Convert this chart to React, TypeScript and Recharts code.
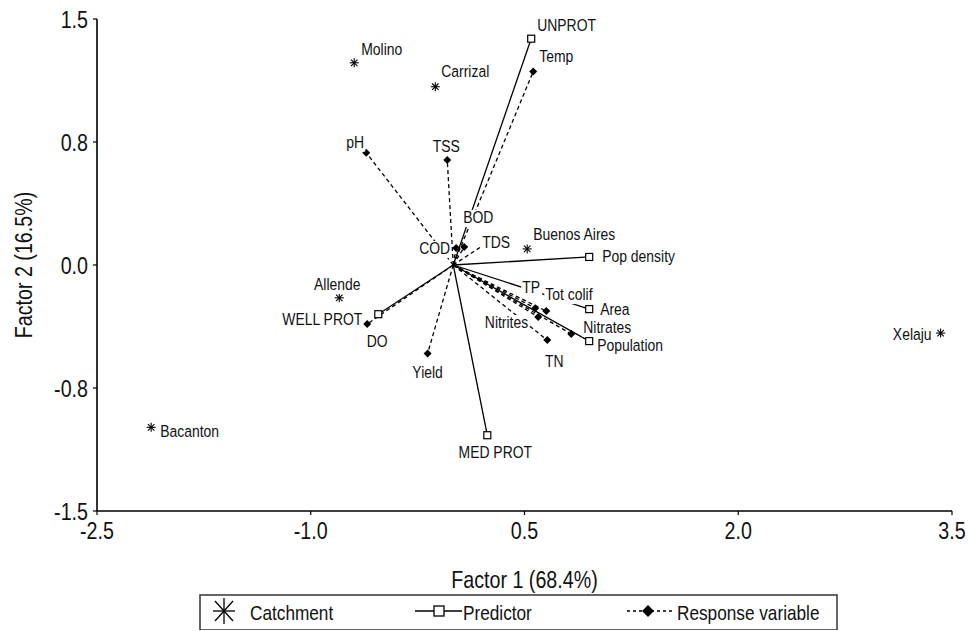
import React from 'react';
import { ScatterChart, Scatter, XAxis, YAxis } from 'recharts';

const FONT = '"Liberation Sans", Arial, sans-serif';
// no Arial Narrow here, so squeeze Liberation Sans horizontally
const NARROW = 0.82;

// catchments (asterisks)
const catchmentNames = ['Molino', 'Carrizal', 'Buenos Aires', 'Allende', 'Bacanton', 'Xelaju'];
const catchmentX = [-0.695, -0.126, 0.519, -0.8, -2.12, 3.42];
const catchmentY = [1.233, 1.087, 0.098, -0.2, -0.99, -0.415];

// predictors (open squares, solid vectors)
const predictorNames = ['UNPROT', 'Pop density', 'Area', 'Population', 'MED PROT', 'WELL PROT'];
const predictorX = [0.547, 0.954, 0.954, 0.954, 0.239, -0.526];
const predictorY = [1.38, 0.049, -0.269, -0.464, -1.038, -0.3];

// response variables (filled diamonds, dashed vectors)
const responseNames = ['Temp', 'pH', 'TSS', 'BOD', 'COD', 'TDS', 'TP', 'Tot colif', 'Nitrites', 'Nitrates', 'TN', 'DO', 'Yield'];
const responseX = [0.561, -0.611, -0.042, 0.077, 0.02, 0.246, 0.575, 0.653, 0.596, 0.828, 0.66, -0.604, -0.18];
const responseY = [1.18, 0.685, 0.641, 0.11, 0.104, 0.14, -0.263, -0.281, -0.317, -0.421, -0.458, -0.36, -0.54];

const xTicks = [-2.5, -1.0, 0.5, 2.0, 3.5];
const yTicks = [-1.5, -0.75, 0, 0.75, 1.5];
const yTickLabels = ['-1.5', '-0.8', '0.0', '0.8', '1.5'];

// where each label sits next to its marker: [dx, dy, anchor]
const labelPlacement: Record<string, [number, number, 'start' | 'middle' | 'end']> = {
  Molino: [7, -8, 'start'],
  Carrizal: [6, -10, 'start'],
  'Buenos Aires': [6, -9, 'start'],
  Allende: [-2, -8, 'middle'],
  Bacanton: [9, 10, 'start'],
  Xelaju: [-9, 7, 'end'],
  UNPROT: [6, -8, 'start'],
  'Pop density': [13, 5, 'start'],
  Area: [11, 6, 'start'],
  Population: [8, 10, 'start'],
  'MED PROT': [8, 23, 'middle'],
  'WELL PROT': [-16, 11, 'end'],
  Temp: [6, -9, 'start'],
  pH: [-2, -5, 'end'],
  TSS: [-1, -8, 'middle'],
  BOD: [-1, -24, 'start'],
  COD: [-6, 6, 'end'],
  TDS: [-6, 6, 'start'],
  TP: [-13, -15, 'start'],
  'Tot colif': [-1, -11, 'start'],
  Nitrites: [-10, 11, 'end'],
  Nitrates: [12, -1, 'start'],
  TN: [7, 27, 'middle'],
  DO: [10, 23, 'middle'],
  Yield: [0, 24, 'middle'],
};

type Pt = { name: string; x: number; y: number };
const zip = (names: string[], xs: number[], ys: number[]): Pt[] =>
  names.map((name, i) => ({ name, x: xs[i], y: ys[i] }));

const catchments = zip(catchmentNames, catchmentX, catchmentY);
const predictors = zip(predictorNames, predictorX, predictorY);
const responses = zip(responseNames, responseX, responseY);
const allPoints = [...catchments, ...predictors, ...responses];
const origin = { name: 'origin', x: 0, y: 0 };

const LABEL_SIZE = 17;

function textWidth(s: string) {
  let w = 0;
  for (const ch of s) {
    if (ch === ' ') w += 0.278;
    else if (ch >= 'A' && ch <= 'Z') w += 0.68;
    else if ('iljt'.includes(ch)) w += 0.24;
    else w += 0.556;
  }
  return w * LABEL_SIZE * NARROW;
}

// squeezed text, anchored at (x, y) on the baseline
const NText = ({ x, y, size, anchor = 'start', rotate = 0, children }: any) => (
  <text
    transform={`translate(${x},${y}) rotate(${rotate}) scale(${NARROW},1)`}
    textAnchor={anchor}
    fontSize={size}
    fontFamily={FONT}
    fill="#111"
  >
    {children}
  </text>
);

const XTick = ({ x, y, payload }: any) => (
  <NText x={x} y={y + 17} size={24} anchor="middle">
    {Number(payload.value).toFixed(1)}
  </NText>
);

const YTick = ({ x, y, payload }: any) => (
  <NText x={x} y={y + 8.5} size={24} anchor="end">
    {yTickLabels[yTicks.indexOf(payload.value)] ?? String(payload.value)}
  </NText>
);

const Nothing = () => <g />;

const Asterisk = ({ cx, cy }: any) => {
  const r = 4.5;
  const d = r * 0.72;
  return (
    <g stroke="#000" strokeWidth={1.1}>
      <line x1={cx} y1={cy - r} x2={cx} y2={cy + r} />
      <line x1={cx - r} y1={cy} x2={cx + r} y2={cy} />
      <line x1={cx - d} y1={cy - d} x2={cx + d} y2={cy + d} />
      <line x1={cx - d} y1={cy + d} x2={cx + d} y2={cy - d} />
    </g>
  );
};

const Square = ({ cx, cy }: any) => (
  <rect x={cx - 3.5} y={cy - 3.5} width={7} height={7} fill="#fff" stroke="#000" strokeWidth={1.2} />
);

const Diamond = ({ cx, cy }: any) => (
  <polygon points={`${cx},${cy - 4} ${cx + 4},${cy} ${cx},${cy + 4} ${cx - 4},${cy}`} fill="#000" />
);

const PointLabel = ({ cx, cy, payload }: any) => {
  const [dx, dy, anchor] = labelPlacement[payload.name] || [6, -6, 'start'];
  const w = textWidth(payload.name);
  const x = cx + dx;
  const y = cy + dy;
  const left = anchor === 'start' ? x : anchor === 'end' ? x - w : x - w / 2;
  return (
    <g>
      <rect x={left - 1} y={y - 13} width={w + 2} height={17} fill="#fff" />
      <NText x={x} y={y} size={LABEL_SIZE} anchor={anchor}>
        {payload.name}
      </NText>
    </g>
  );
};

const Legend = () => (
  <svg width={640} height={36} style={{ position: 'absolute', left: 199, top: 594 }}>
    <rect x={1} y={1} width={637} height={35} fill="#fff" stroke="#333" strokeWidth={1.5} />
    <g stroke="#000" strokeWidth={1.3}>
      <line x1={25} y1={4} x2={25} y2={30} />
      <line x1={14} y1={17} x2={36} y2={17} />
      <line x1={16} y1={7} x2={34} y2={27} />
      <line x1={16} y1={27} x2={34} y2={7} />
    </g>
    <NText x={51} y={26} size={21}>Catchment</NText>
    <line x1={216} y1={17} x2={263} y2={17} stroke="#000" strokeWidth={1.4} />
    <rect x={235} y={12} width={10} height={10} fill="#fff" stroke="#000" strokeWidth={1.3} />
    <NText x={264} y={26} size={21}>Predictor</NText>
    <line x1={428} y1={17} x2={473} y2={17} stroke="#000" strokeWidth={1.4} strokeDasharray="3 3" />
    <polygon points="449,11 455,17 449,23 443,17" fill="#000" />
    <NText x={478} y={26} size={21}>Response variable</NText>
  </svg>
);

export default function App() {
  return (
    <div style={{ position: 'absolute', left: 0, top: 0, width: 969, height: 631, background: '#fff' }}>
      <ScatterChart width={969} height={631} margin={{ top: 19, right: 17, bottom: 40, left: 0 }}>
        <XAxis
          type="number"
          dataKey="x"
          domain={[-2.5, 3.5]}
          ticks={xTicks}
          interval={0}
          allowDataOverflow
          axisLine={{ stroke: '#000', strokeWidth: 1.6 }}
          tickLine={{ stroke: '#000', strokeWidth: 1.2 }}
          tickSize={4}
          tickMargin={7}
          tick={XTick}
          height={80}
          label={{
            content: ({ viewBox }: any) => (
              <NText x={viewBox.x + viewBox.width / 2} y={viewBox.y + 77} size={24} anchor="middle">
                Factor 1 (68.4%)
              </NText>
            ),
          }}
        />
        <YAxis
          type="number"
          dataKey="y"
          domain={[-1.5, 1.5]}
          ticks={yTicks}
          interval={0}
          allowDataOverflow
          axisLine={{ stroke: '#000', strokeWidth: 1.6 }}
          tickLine={{ stroke: '#000', strokeWidth: 1.2 }}
          tickSize={4}
          tickMargin={5}
          tick={YTick}
          width={97}
          label={{
            content: ({ viewBox }: any) => (
              <text
                transform={`translate(${viewBox.x + 32},${viewBox.y + viewBox.height / 2}) rotate(-90) scale(${NARROW},1)`}
                textAnchor="middle"
                fontSize={24}
                fontFamily={FONT}
                fill="#111"
              >
                Factor 2 (16.5%)
              </text>
            ),
          }}
        />
        {predictors.map((p) => (
          <Scatter
            key={`pv-${p.name}`}
            data={[origin, p]}
            line={{ stroke: '#000', strokeWidth: 1.3 }}
            shape={Nothing}
            isAnimationActive={false}
          />
        ))}
        {responses.map((p) => (
          <Scatter
            key={`rv-${p.name}`}
            data={[origin, p]}
            line={{ stroke: '#000', strokeWidth: 1.3, strokeDasharray: '4 3' }}
            shape={Nothing}
            isAnimationActive={false}
          />
        ))}
        <Scatter data={catchments} shape={Asterisk} isAnimationActive={false} />
        <Scatter data={predictors} shape={Square} isAnimationActive={false} />
        <Scatter data={responses} shape={Diamond} isAnimationActive={false} />
        <Scatter data={allPoints} shape={PointLabel} isAnimationActive={false} />
      </ScatterChart>
      <Legend />
    </div>
  );
}
